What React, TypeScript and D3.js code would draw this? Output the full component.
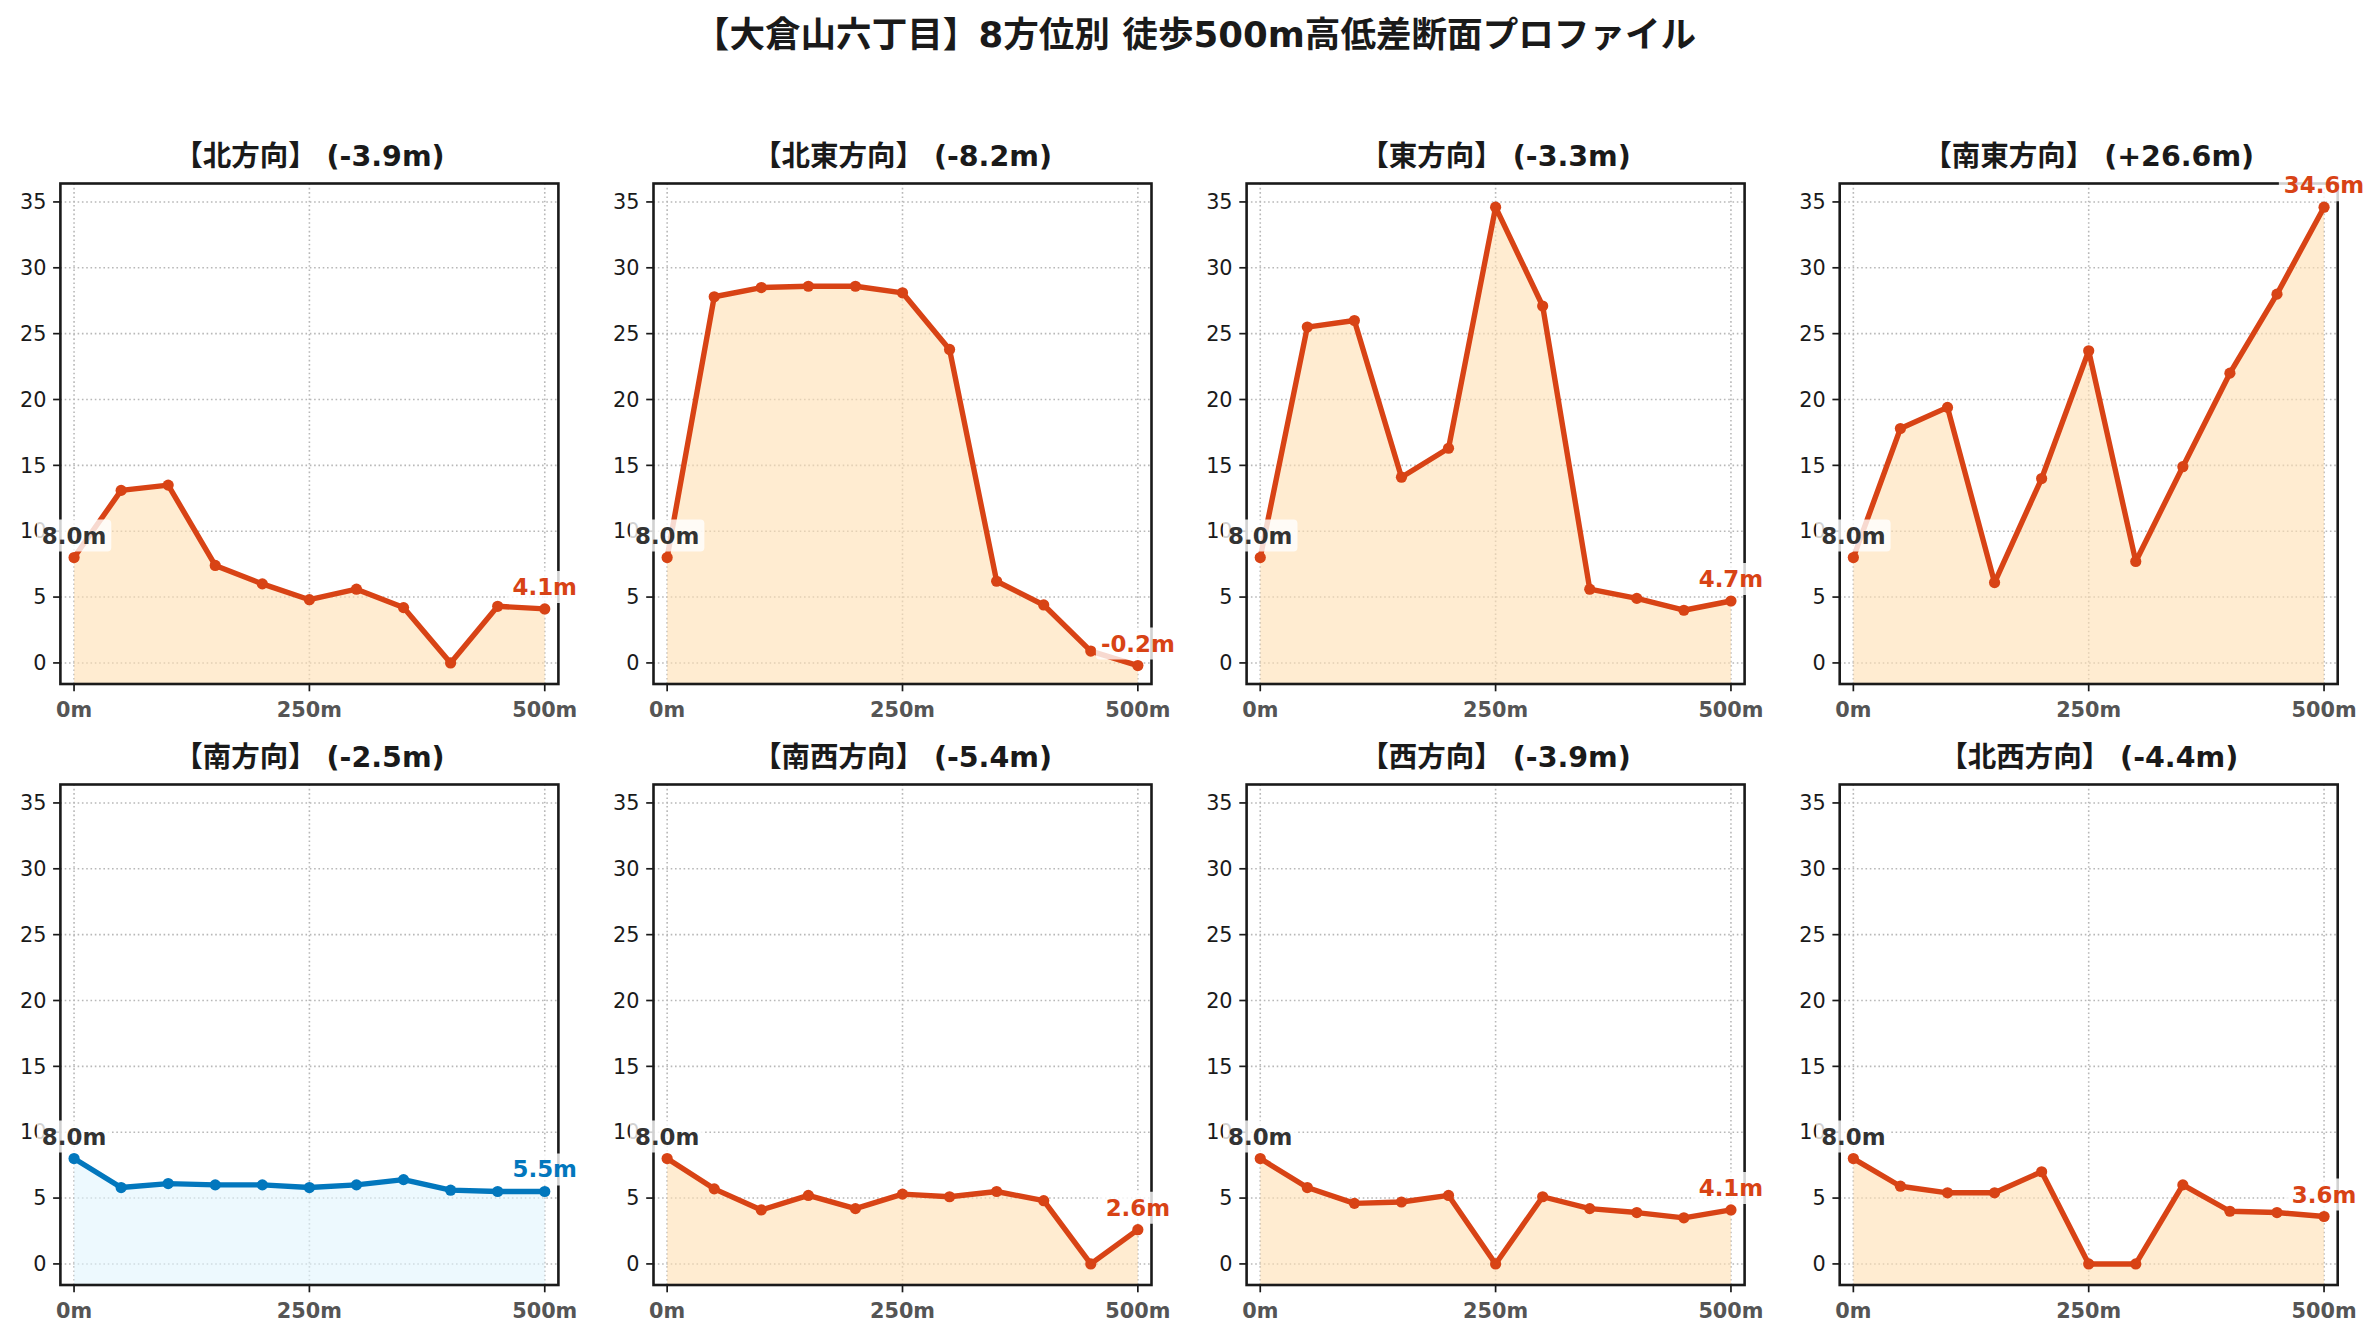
import React, { useEffect } from 'react';
import * as d3 from 'd3';

const WIDTH = 2380;
const HEIGHT = 1340;
const FONT = '"DejaVu Sans", "Noto Sans CJK JP", sans-serif';

const TITLE = '【大倉山六丁目】8方位別 徒歩500m高低差断面プロファイル';

// distance from start (m)
const DISTANCES = [0, 50, 100, 150, 200, 250, 300, 350, 400, 450, 500];

const DIRECTIONS = ['北方向', '北東方向', '東方向', '南東方向', '南方向', '南西方向', '西方向', '北西方向'];

// elevation (m) along each direction
const ELEVATIONS = [
    [8.0, 13.1, 13.5, 7.4, 6.0, 4.8, 5.6, 4.2, 0.0, 4.3, 4.1],
    [8.0, 27.8, 28.5, 28.6, 28.6, 28.1, 23.8, 6.2, 4.4, 0.9, -0.2],
    [8.0, 25.5, 26.0, 14.1, 16.3, 34.6, 27.1, 5.6, 4.9, 4.0, 4.7],
    [8.0, 17.8, 19.4, 6.1, 14.0, 23.7, 7.7, 14.9, 22.0, 28.0, 34.6],
    [8.0, 5.8, 6.1, 6.0, 6.0, 5.8, 6.0, 6.4, 5.6, 5.5, 5.5],
    [8.0, 5.7, 4.1, 5.2, 4.2, 5.3, 5.1, 5.5, 4.8, 0.0, 2.6],
    [8.0, 5.8, 4.6, 4.7, 5.2, 0.0, 5.1, 4.2, 3.9, 3.5, 4.1],
    [8.0, 5.9, 5.4, 5.4, 7.0, 0.0, 0.0, 6.0, 4.0, 3.9, 3.6],
];

// colour theme per panel
const THEMES = ['warm', 'warm', 'warm', 'warm', 'cool', 'warm', 'warm', 'warm'];

const X_TICKS = [0, 250, 500];
const Y_TICKS = [0, 5, 10, 15, 20, 25, 30, 35];

const PALETTE: Record<string, { line: string; fill: string }> = {
    warm: { line: '#d84315', fill: '#ffe0b2' },
    cool: { line: '#0277bd', fill: '#e1f5fe' },
};

const COLS = 4;
const PANEL_LEFT = 60.4;
const PANEL_STEP_X = 593.1;
const PANEL_TOP = 183.5;
const PANEL_STEP_Y = 601;
const PANEL_W = 498;
const PANEL_H = 500.5;

// rough DejaVu Sans Bold advance widths, for the label boxes
const CHAR_W: Record<string, number> = { '.': 0.38, m: 1.042, '-': 0.415, '+': 0.838 };
function textWidth(s: string, size: number) {
    let w = 0;
    for (const c of s) w += CHAR_W[c] ?? 0.696;
    return w * size;
}

function Label({ x, y, text, color }: { x: number; y: number; text: string; color: string }) {
    const size = 22.9;
    const w = textWidth(text, size);
    const cy = y - 22;
    return (
        <g>
            <rect x={x - w / 2 - 5} y={cy - 16} width={w + 10} height={32} rx={4}
                fill="white" fillOpacity={0.8} />
            <text x={x} y={cy} textAnchor="middle" dominantBaseline="central"
                fontSize={size} fontWeight="bold" fill={color} fontFamily={FONT}>{text}</text>
        </g>
    );
}

function Panel({ index }: { index: number }) {
    const left = PANEL_LEFT + (index % COLS) * PANEL_STEP_X;
    const top = PANEL_TOP + Math.floor(index / COLS) * PANEL_STEP_Y;
    const values = ELEVATIONS[index];
    const colors = PALETTE[THEMES[index]];

    const x = d3.scaleLinear().domain([-14.5, 514.5]).range([0, PANEL_W]);
    const y = d3.scaleLinear().domain([-1.6, 36.4]).range([PANEL_H, 0]);

    const pts = DISTANCES.map((d, i) => [d, values[i]] as [number, number]);
    const line = d3.line<[number, number]>().x(d => x(d[0])).y(d => y(d[1]));
    const area = d3.area<[number, number]>().x(d => x(d[0])).y0(PANEL_H).y1(d => y(d[1]));

    const first = values[0];
    const last = values[values.length - 1];
    const diff = last - first;
    const title = `【${DIRECTIONS[index]}】 (${diff >= 0 ? '+' : ''}${diff.toFixed(1)}m)`;

    return (
        <g transform={`translate(${left},${top})`}>
            <text x={PANEL_W / 2} y={-18} textAnchor="middle" fontSize={28.5} fontWeight="bold"
                fill="#1a1a1a" fontFamily={FONT}>{title}</text>

            {/* grid */}
            {Y_TICKS.map(t => (
                <line key={'gy' + t} x1={0} x2={PANEL_W} y1={y(t)} y2={y(t)}
                    stroke="#b8b8b8" strokeWidth={1.6} strokeDasharray="1.6,2.7" />
            ))}
            {X_TICKS.map(t => (
                <line key={'gx' + t} x1={x(t)} x2={x(t)} y1={0} y2={PANEL_H}
                    stroke="#b8b8b8" strokeWidth={1.6} strokeDasharray="1.6,2.7" />
            ))}

            <path d={area(pts) ?? ''} fill={colors.fill} fillOpacity={0.6} />
            <path d={line(pts) ?? ''} fill="none" stroke={colors.line} strokeWidth={5.4}
                strokeLinejoin="round" />
            {pts.map((p, i) => (
                <circle key={i} cx={x(p[0])} cy={y(p[1])} r={5.6} fill={colors.line} />
            ))}

            {/* spines */}
            <rect x={0} y={0} width={PANEL_W} height={PANEL_H} fill="none" stroke="#1a1a1a" strokeWidth={2.6} />

            {/* y axis */}
            {Y_TICKS.map(t => (
                <g key={'ty' + t} transform={`translate(0,${y(t)})`}>
                    <line x1={-7.3} x2={0} stroke="#1a1a1a" strokeWidth={1.7} />
                    <text x={-14} dy="0.35em" textAnchor="end" fontSize={20.8} fill="#1a1a1a"
                        fontFamily={FONT}>{t}</text>
                </g>
            ))}
            {/* x axis */}
            {X_TICKS.map(t => (
                <g key={'tx' + t} transform={`translate(${x(t)},${PANEL_H})`}>
                    <line y1={0} y2={7.3} stroke="#1a1a1a" strokeWidth={1.7} />
                    <text y={26} dy="0.35em" textAnchor="middle" fontSize={20.8} fontWeight="bold"
                        fill="#555555" fontFamily={FONT}>{`${t}m`}</text>
                </g>
            ))}

            <Label x={x(DISTANCES[0])} y={y(first)} text={`${first.toFixed(1)}m`} color="#333333" />
            <Label x={x(DISTANCES[DISTANCES.length - 1])} y={y(last)} text={`${last.toFixed(1)}m`} color={colors.line} />
        </g>
    );
}

export default function App() {
    useEffect(() => {
        document.body.style.margin = '0';
    }, []);

    return (
        <svg width={WIDTH} height={HEIGHT} style={{ display: 'block', background: 'white' }}>
            <rect width={WIDTH} height={HEIGHT} fill="white" />
            <text x={WIDTH / 2 + 5} y={34} textAnchor="middle" dominantBaseline="central" fontSize={35.6}
                fontWeight="bold" fill="#1a1a1a" fontFamily={FONT}>{TITLE}</text>
            {DIRECTIONS.map((_, i) => <Panel key={i} index={i} />)}
        </svg>
    );
}
